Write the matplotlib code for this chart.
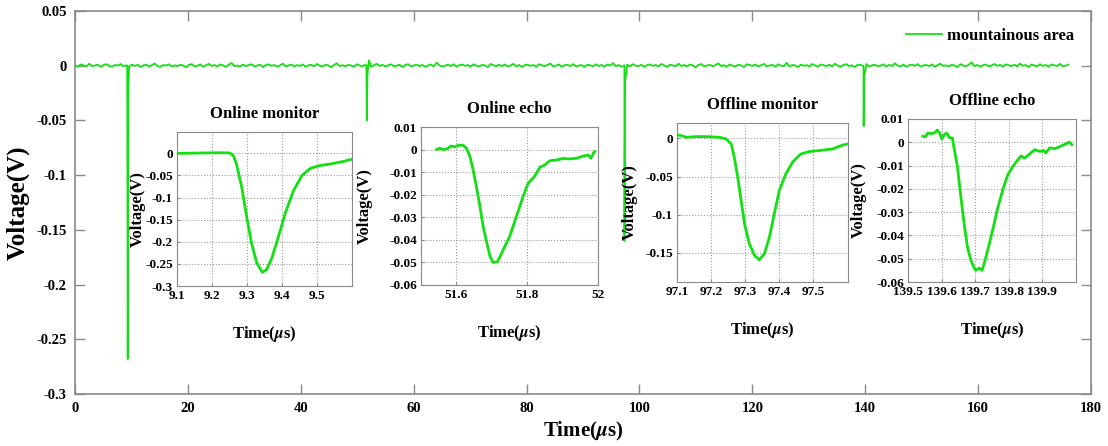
import numpy as np
import matplotlib
matplotlib.use("Agg")
import matplotlib.pyplot as plt

plt.rcParams['font.family'] = ['Liberation Serif', 'DejaVu Serif']
plt.rcParams['font.weight'] = 'bold'
plt.rcParams['mathtext.fontset'] = 'stix'

# baseline noise of the full trace, in units of 0.1 mV, from 0 to 176 us
noise = [
    5, -8, 12, 3, -6, 18, -4, 2, 9, -11, 6, 14, -3, -9, 7, 1, 16, -5, 4, -7,
    10, -2, 8, -12, 3, 11, -6, 5, 20, -4, -10, 6, 2, 13, -8, 4, -3, 9, 1, -14,
    7, 15, -5, 0, 11, -9, 4, 17, -2, 6, -7, 12, 3, -11, 8, 25, -4, 2, -8, 10,
    -3, 6, 14, -6, 1, 9, -12, 5, 13, -1, 7, -9, 3, 19, -5, 2, 11, -7, 6, -2,
    12, -10, 4, 8, -4, 16, 0, -8, 10, 3, -13, 7, 22, -3, 5, -6, 9, 1, -9, 14,
    2, -5, 11, 6, -11, 3, 18, -2, 8, -7, 4, 13, -4, 0, 9, -12, 6, 15, -6, 3,
    10, -3, 7, -10, 2, 12, -5, 28, 4, -8, 1, 9, -3, 14, -9, 5, 11, -1, 6, -6,
    13, 0, -7, 8, 3, -12, 16, 5, -4, 9, -2, 11, -8, 2, 17, -5, 7, -11, 4, 10,
    -1, 6, -9, 14, 3, -4, 8, 20, -6, 1, 12, -10, 5, 9, -3, 15, -7, 2, 6, -12,
    9, 4, -5, 13, -2, 7, -8, 11, 1, 24, -4, 6, -9, 3, 10, -6, 14, 0, -3, 8,
    -11, 5, 12, -1, 7, -7, 16, 2, -10, 9, 4, -5, 18, -2, 6, -8, 11, 3, -13, 7,
    15, -4, 1, 10, -6, 8, 21, -3, 5, -9, 12, 0, -7, 9, 3, -12, 14, 6, -2, 11,
    -8, 4, 17, -5, 2, 8, -10, 13, 1, -4, 26, -6, 7, 3, -11, 10, -1, 6, -7, 15,
    2, -9, 12, 5, -3, 9, -6, 19, 0, -8, 7, 14, -4, 3, -12, 11, 6, -2, 16, -7,
    4, 10, -5, 1, 13, -9, 8, -3, 22, 2, -6, 11, -10, 5, 9, -1, 15, -8, 3, 7,
    -4, 12, -11, 6, 18, -2, 4, -7, 10, 1, -13, 14, 3, -5, 9, 30, -3, 7, -9, 5,
    11, -6, 2, 16, -1, 8, -10, 13, 4, -4, 9, -8, 20, 0, 6, -12, 11, 3, -5, 14,
    -2, 7, -9, 12, 5, -3, 17, -6, 1, 10,
]
t_start, t_end = 0.0, 176.0

# the four pulses as they show in the full trace
spike_t = [9.25, 9.34, 9.45, 51.62, 51.70, 51.80, 52.1, 97.25, 97.34, 97.45, 139.63, 139.71, 139.82]
spike_v = [0.0, -0.268, -0.02, 0.0, -0.050, -0.01, 0.005, 0.0, -0.160, -0.015, 0.0, -0.055, -0.01]

# zoomed pulses
on_mon_t = [9.1, 9.2225, 9.251, 9.261, 9.27, 9.285, 9.299, 9.313, 9.328, 9.344, 9.356,
            9.371, 9.39, 9.409, 9.433, 9.457, 9.481, 9.505, 9.538, 9.577, 9.6]
on_mon_v = [0.0, 0.0015, 0.001, -0.005, -0.024, -0.076, -0.143, -0.203, -0.248, -0.269, -0.263,
            -0.237, -0.188, -0.136, -0.084, -0.05, -0.034, -0.028, -0.024, -0.018, -0.013]

on_echo_t = [51.544, 51.553, 51.563, 51.574, 51.584, 51.595, 51.607, 51.619, 51.628, 51.638,
             51.647, 51.656, 51.666, 51.675, 51.685, 51.694, 51.703, 51.715, 51.724, 51.736,
             51.750, 51.769, 51.788, 51.802, 51.820, 51.835, 51.849, 51.863, 51.882, 51.901,
             51.920, 51.939, 51.958, 51.972, 51.979, 51.986, 51.99]
on_echo_v = [0.0001, 0.0006, 0.0, 0.0004, 0.0016, 0.0013, 0.002, 0.0019, 0.0006, -0.003,
             -0.009, -0.0163, -0.025, -0.034, -0.041, -0.047, -0.050, -0.0498, -0.047, -0.043,
             -0.0385, -0.0296, -0.0207, -0.0149, -0.0119, -0.0078, -0.0068, -0.0049, -0.0046, -0.0039,
             -0.0041, -0.0038, -0.0028, -0.0024, -0.0038, -0.0016, -0.0009]

off_mon_t = [97.1, 97.113, 97.127, 97.156, 97.186, 97.225, 97.244, 97.259, 97.268, 97.278,
             97.288, 97.298, 97.312, 97.327, 97.341, 97.356, 97.371, 97.385, 97.400, 97.419,
             97.439, 97.463, 97.487, 97.517, 97.556, 97.58, 97.6]
off_mon_v = [0.0044, 0.0035, 0.0013, 0.0022, 0.0022, 0.0013, -0.0009, -0.0074, -0.025, -0.051,
             -0.0815, -0.112, -0.138, -0.153, -0.159, -0.151, -0.129, -0.099, -0.068, -0.0466,
             -0.031, -0.0205, -0.0174, -0.016, -0.014, -0.0096, -0.0074]

off_echo_t = [139.544, 139.552, 139.559, 139.569, 139.579, 139.587, 139.594, 139.601, 139.608,
              139.615, 139.624, 139.632, 139.637, 139.647, 139.657, 139.667, 139.677, 139.687,
              139.697, 139.702, 139.712, 139.72, 139.727, 139.737, 139.752, 139.767, 139.782,
              139.797, 139.812, 139.827, 139.837, 139.847, 139.862, 139.877, 139.892, 139.905,
              139.91, 139.922, 139.937, 139.95, 139.965, 139.98, 139.988]
off_echo_v = [0.0026, 0.0023, 0.004, 0.0037, 0.004, 0.0052, 0.004, 0.0014, 0.0033,
              0.004, 0.0019, 0.0019, -0.0024, -0.0104, -0.023, -0.035, -0.045, -0.0506,
              -0.054, -0.055, -0.054, -0.055, -0.052, -0.0465, -0.0377, -0.0283, -0.0204,
              -0.014, -0.0104, -0.0075, -0.0058, -0.0068, -0.005, -0.0032, -0.0039, -0.0036,
              -0.0046, -0.0024, -0.0027, -0.002, -0.001, 0.0001, -0.001]

green = '#12e012'
gray = '#8a8a8a'
tick_font = {'family': 'Liberation Serif', 'weight': 'bold'}

fig = plt.figure(figsize=(11.08, 4.46), dpi=100)
ax = fig.add_axes([0.0677, 0.1166, 0.917, 0.8587])

t_base = np.linspace(t_start, t_end, len(noise))
v_base = np.array(noise) * 1e-4
t_all = np.concatenate([t_base, spike_t])
v_all = np.concatenate([v_base, spike_v])
order = np.argsort(t_all)
ax.plot(t_all[order], v_all[order], color=green, lw=1.3, label='mountainous area')

ax.set_xlim(0, 180)
ax.set_ylim(-0.3, 0.05)
xt_main = list(range(0, 181, 20))
yt_main = [0.05, 0, -0.05, -0.1, -0.15, -0.2, -0.25, -0.3]
ax.set_xticks(xt_main)
ax.set_xticklabels([str(v) for v in xt_main], fontdict=tick_font, fontsize=10.5)
ax.set_yticks(yt_main)
ax.set_yticklabels(['%g' % v for v in yt_main], fontdict=tick_font, fontsize=10.5)
ax.tick_params(direction='in', length=7, width=1, color=gray, top=True, right=True, pad=6)
for s in ax.spines.values():
    s.set_color(gray)
    s.set_linewidth(1.2)
ax.set_xlabel('Time($\\mu$s)', fontsize=15, fontweight='bold', labelpad=3)
ax.set_ylabel('Voltage(V)', fontsize=18, fontweight='bold')
ax.yaxis.set_label_coords(-0.045, 0.5)
ax.legend(loc='upper right', frameon=False, handlelength=2.2,
          handletextpad=0.3, borderaxespad=0.6, prop={'weight': 'bold', 'size': 12})

insets = [
    ([0.1597, 0.3587, 0.158, 0.345], on_mon_t, on_mon_v, 'Online monitor',
     (9.1, 9.6), [9.1, 9.2, 9.3, 9.4, 9.5], (-0.3, 0.048),
     [0, -0.05, -0.1, -0.15, -0.2, -0.25, -0.3], -0.18),
    ([0.380, 0.361, 0.16, 0.354], on_echo_t, on_echo_v, 'Online echo',
     (51.5, 52.0), [51.6, 51.8, 52.0], (-0.06, 0.01),
     [0.01, 0, -0.01, -0.02, -0.03, -0.04, -0.05, -0.06], -0.27),
    ([0.611, 0.3677, 0.154, 0.3565], off_mon_t, off_mon_v, 'Offline monitor',
     (97.1, 97.6), [97.1, 97.2, 97.3, 97.4, 97.5], (-0.188, 0.02),
     [0, -0.05, -0.1, -0.15], -0.23),
    ([0.8195, 0.3677, 0.1516, 0.3655], off_echo_t, off_echo_v, 'Offline echo',
     (139.5, 140.0), [139.5, 139.6, 139.7, 139.8, 139.9], (-0.06, 0.01),
     [0.01, 0, -0.01, -0.02, -0.03, -0.04, -0.05, -0.06], -0.245),
]

for rect, tx, vy, title, xl, xt, yl, yt, ylab_x in insets:
    a = fig.add_axes(rect)
    a.plot(tx, vy, color=green, lw=2)
    a.set_xlim(*xl)
    a.set_ylim(*yl)
    a.set_xticks(xt)
    a.set_xticklabels(['%g' % v for v in xt], fontdict=tick_font, fontsize=9.5)
    a.set_yticks(yt)
    a.set_yticklabels(['%g' % v for v in yt], fontdict=tick_font, fontsize=9.5)
    a.grid(True, color='#9a9a9a', ls=':', lw=0.8)
    a.tick_params(direction='in', length=2, color=gray, pad=3)
    for s in a.spines.values():
        s.set_color(gray)
    a.set_title(title, fontsize=12, fontweight='bold', pad=10)
    a.set_xlabel('Time($\\mu$s)', fontsize=12, fontweight='bold')
    h = rect[3] * 446
    a.xaxis.set_label_coords(0.5, -38 / h)
    a.set_ylabel('Voltage(V)', fontsize=12, fontweight='bold')
    a.yaxis.set_label_coords(ylab_x, 0.5)

fig.savefig('out.png', dpi=100)
